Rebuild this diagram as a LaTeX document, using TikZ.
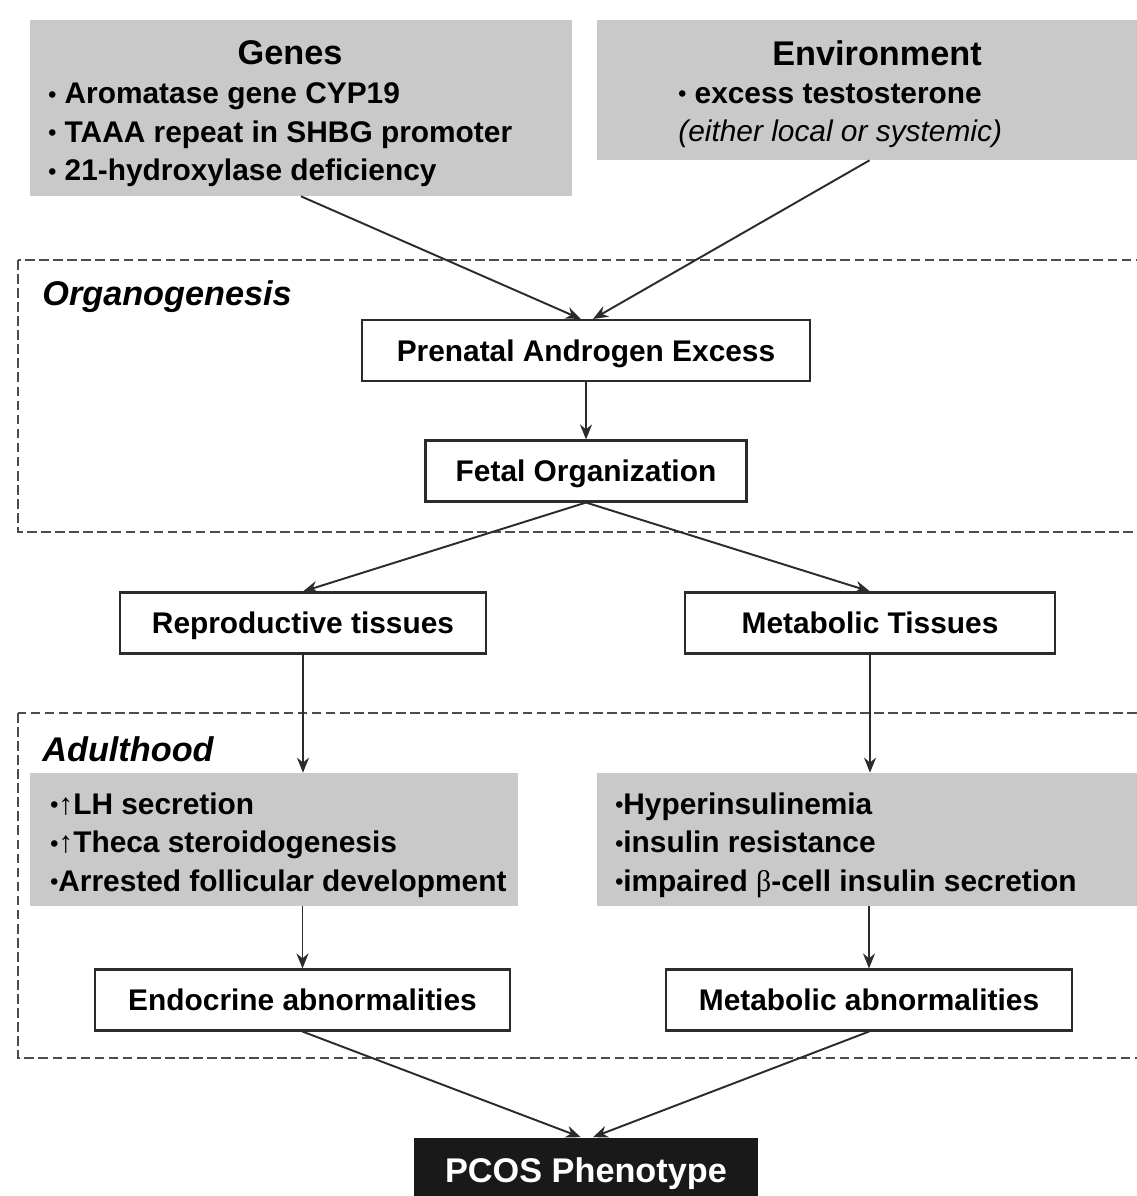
\documentclass[tikz,border=0pt]{standalone}
\usepackage{fontspec}
\setmainfont{Liberation Sans}
\newfontfamily\greekfont{Liberation Serif}
\usetikzlibrary{arrows.meta}
\definecolor{boxgray}{HTML}{C9C9C9}
\definecolor{linegray}{HTML}{2B2B2B}
\newcommand\dotmark{\raisebox{0.1ex}{\fontsize{13}{13}\selectfont•}}

\begin{document}
\begin{tikzpicture}[x=0.02cm,y=-0.02cm,
   every node/.style={inner sep=0pt},
   txt/.style={font=\fontsize{17}{21.9}\selectfont\bfseries,align=left,anchor=west},
   title/.style={font=\fontsize{19.5}{23}\selectfont\bfseries},
   period/.style={font=\fontsize{19.5}{23}\selectfont\bfseries\itshape,anchor=west},
   shade/.style={fill=boxgray},
   stage/.style={draw=linegray,line width=1.2pt,fill=white,minimum height=1.22cm,
      text height=12.3pt,text depth=0pt,font=\fontsize{17}{20}\selectfont\bfseries},
   phase/.style={draw=black!70,line width=1.3pt,dash pattern=on 5.5pt off 2.5pt},
   link/.style={draw=linegray,line width=1.1pt,-{Stealth[length=0.3cm,width=0.24cm]}}]
   \useasboundingbox (0,0) rectangle (1136,1196);
   % periods
   \draw[phase] (18,260) rectangle (1160,532);
   \draw[phase] (18,713) rectangle (1160,1058);
   \node[period] (organo) at (42,297) {Organogenesis};
   \node[period] (adult) at (42,749) {Adulthood};
   % causes
   \node[shade,minimum width=10.84cm,minimum height=3.52cm] (genes) at (301,108) {};
   \node[title] (genest) at (290,53) {Genes};
   \node[txt] (genesl) at (48,135) {\dotmark{} Aromatase gene CYP19\\\dotmark{} TAAA repeat in SHBG promoter\\\dotmark{} 21-hydroxylase deficiency};
   \node[shade,minimum width=10.9cm,minimum height=2.8cm] (env) at (869.5,90) {};
   \node[title] (envt) at (877,53) {Environment};
   \node[txt] (envl) at (678,116) {\dotmark{} excess testosterone\\{\mdseries\itshape(either local or systemic)}};
   % fetal stage
   \node[stage,minimum width=8.96cm] (pae) at (586,350.5) {Prenatal Androgen Excess};
   \node[stage,minimum width=6.42cm] (fetal) at (586,471) {Fetal Organization};
   \node[stage,minimum width=7.32cm] (repro) at (303,623) {Reproductive tissues};
   \node[stage,minimum width=7.4cm] (metab) at (870,623) {Metabolic Tissues};
   % adult stage
   \node[shade,minimum width=9.76cm,minimum height=2.66cm] (reprol) at (274,839.5) {};
   \node[txt] (reprot) at (50,845) {\dotmark↑LH secretion\\\dotmark↑Theca steroidogenesis\\\dotmark Arrested follicular development};
   \node[shade,minimum width=10.9cm,minimum height=2.66cm] (metabl) at (869.5,839.5) {};
   \node[txt] (metabt) at (615,845) {\dotmark Hyperinsulinemia\\\dotmark insulin resistance\\\dotmark impaired {\mdseries\greekfont β}-cell insulin secretion};
   \node[stage,minimum width=8.3cm] (endo) at (302.5,1000) {Endocrine abnormalities};
   \node[stage,minimum width=8.12cm] (metabab) at (869,1000) {Metabolic abnormalities};
   \node[fill=black!90,text=white,minimum width=6.88cm,minimum height=1.3cm,text height=14pt,text depth=0pt,
      font=\fontsize{19.5}{23}\selectfont\bfseries] (pcos) at (586,1170) {PCOS Phenotype};
   % arrows
   \path[link] (genes.south) -- ([xshift=-3pt]pae.north);
   \path[link] (env.south) -- ([xshift=4pt]pae.north);
   \path[link] (pae) -- (fetal);
   \path[link] (fetal.south) -- (repro.north);
   \path[link] (fetal.south) -- (metab.north);
   \path[link] (repro.south) -- (repro.south |- reprol.north);
   \path[link] (metab.south) -- (metab.south |- metabl.north);
   \path[link] (endo.north |- reprol.south) -- (endo.north);
   \path[link] (metabab.north |- metabl.south) -- (metabab.north);
   \path[link] (endo.south) -- ([xshift=-3pt]pcos.north);
   \path[link] (metabab.south) -- ([xshift=4pt]pcos.north);

\end{tikzpicture}
\end{document}
